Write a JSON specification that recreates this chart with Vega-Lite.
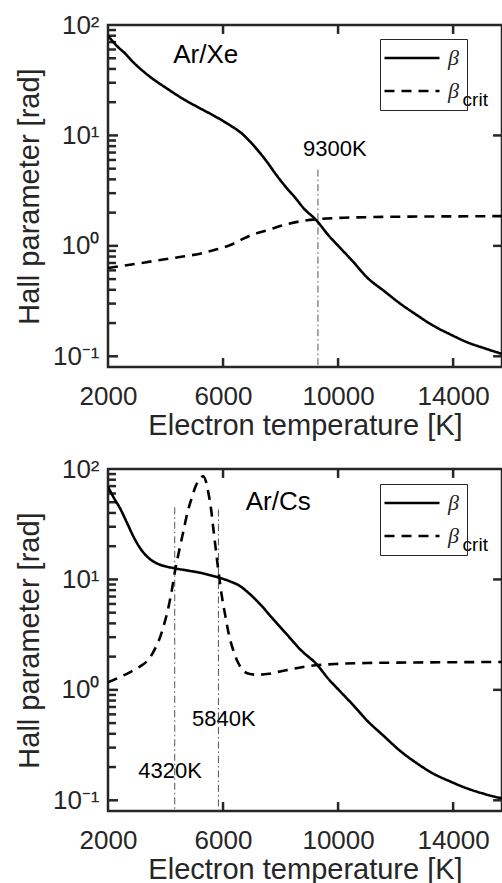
{
  "$schema": "https://vega.github.io/schema/vega-lite/v6.json",
  "background": "white",
  "padding": {"left": 14, "top": 10, "right": 0, "bottom": 0},
  "spacing": 12,
  "datasets": {
    "xeCurves": [
      {"T": 2000, "v": 80, "s": "beta"}, {"T": 2300, "v": 65, "s": "beta"}, {"T": 2600, "v": 55, "s": "beta"},
      {"T": 2880, "v": 46, "s": "beta"}, {"T": 3460, "v": 34, "s": "beta"}, {"T": 4040, "v": 26.7, "s": "beta"},
      {"T": 4600, "v": 21.5, "s": "beta"}, {"T": 5200, "v": 17.6, "s": "beta"}, {"T": 5700, "v": 15, "s": "beta"},
      {"T": 6130, "v": 12.9, "s": "beta"}, {"T": 6710, "v": 10.1, "s": "beta"}, {"T": 7100, "v": 7.9, "s": "beta"},
      {"T": 7520, "v": 5.8, "s": "beta"}, {"T": 7850, "v": 4.4, "s": "beta"}, {"T": 8210, "v": 3.35, "s": "beta"},
      {"T": 8500, "v": 2.75, "s": "beta"}, {"T": 8790, "v": 2.21, "s": "beta"}, {"T": 9250, "v": 1.7, "s": "beta"},
      {"T": 9650, "v": 1.26, "s": "beta"}, {"T": 10070, "v": 0.96, "s": "beta"}, {"T": 10500, "v": 0.73, "s": "beta"},
      {"T": 11000, "v": 0.52, "s": "beta"}, {"T": 11600, "v": 0.39, "s": "beta"}, {"T": 12160, "v": 0.3, "s": "beta"},
      {"T": 12700, "v": 0.24, "s": "beta"}, {"T": 13300, "v": 0.19, "s": "beta"}, {"T": 13900, "v": 0.158, "s": "beta"},
      {"T": 14490, "v": 0.134, "s": "beta"}, {"T": 15100, "v": 0.118, "s": "beta"}, {"T": 15700, "v": 0.105, "s": "beta"},
      {"T": 2000, "v": 0.63, "s": "crit"}, {"T": 2500, "v": 0.66, "s": "crit"}, {"T": 3000, "v": 0.69, "s": "crit"},
      {"T": 3460, "v": 0.72, "s": "crit"}, {"T": 4040, "v": 0.76, "s": "crit"}, {"T": 4600, "v": 0.8, "s": "crit"},
      {"T": 5200, "v": 0.85, "s": "crit"}, {"T": 5780, "v": 0.93, "s": "crit"}, {"T": 6300, "v": 1.03, "s": "crit"},
      {"T": 6590, "v": 1.12, "s": "crit"}, {"T": 6940, "v": 1.24, "s": "crit"}, {"T": 7520, "v": 1.38, "s": "crit"},
      {"T": 8210, "v": 1.57, "s": "crit"}, {"T": 8700, "v": 1.67, "s": "crit"}, {"T": 9250, "v": 1.74, "s": "crit"},
      {"T": 10000, "v": 1.79, "s": "crit"}, {"T": 11000, "v": 1.82, "s": "crit"}, {"T": 12500, "v": 1.84, "s": "crit"},
      {"T": 14000, "v": 1.85, "s": "crit"}, {"T": 15700, "v": 1.86, "s": "crit"}
    ],
    "csCurves": [
      {"T": 2000, "v": 69, "s": "beta"}, {"T": 2200, "v": 55, "s": "beta"}, {"T": 2420, "v": 44, "s": "beta"},
      {"T": 2650, "v": 33, "s": "beta"}, {"T": 2880, "v": 24.6, "s": "beta"}, {"T": 3100, "v": 19.5, "s": "beta"},
      {"T": 3350, "v": 16.2, "s": "beta"}, {"T": 3600, "v": 14.4, "s": "beta"}, {"T": 3810, "v": 13.6, "s": "beta"},
      {"T": 4330, "v": 12.6, "s": "beta"}, {"T": 4800, "v": 12.0, "s": "beta"}, {"T": 5200, "v": 11.5, "s": "beta"},
      {"T": 5840, "v": 10.4, "s": "beta"}, {"T": 6200, "v": 9.7, "s": "beta"}, {"T": 6590, "v": 8.7, "s": "beta"},
      {"T": 6900, "v": 7.5, "s": "beta"}, {"T": 7290, "v": 5.96, "s": "beta"}, {"T": 7700, "v": 4.5, "s": "beta"},
      {"T": 8210, "v": 3.2, "s": "beta"}, {"T": 8700, "v": 2.3, "s": "beta"}, {"T": 9250, "v": 1.71, "s": "beta"},
      {"T": 9650, "v": 1.27, "s": "beta"}, {"T": 10070, "v": 0.97, "s": "beta"}, {"T": 10500, "v": 0.74, "s": "beta"},
      {"T": 11000, "v": 0.53, "s": "beta"}, {"T": 11600, "v": 0.38, "s": "beta"}, {"T": 12160, "v": 0.28, "s": "beta"},
      {"T": 12700, "v": 0.22, "s": "beta"}, {"T": 13300, "v": 0.175, "s": "beta"}, {"T": 13900, "v": 0.148, "s": "beta"},
      {"T": 14490, "v": 0.128, "s": "beta"}, {"T": 15100, "v": 0.114, "s": "beta"}, {"T": 15700, "v": 0.104, "s": "beta"},
      {"T": 2000, "v": 1.17, "s": "crit"}, {"T": 2400, "v": 1.3, "s": "crit"}, {"T": 2770, "v": 1.45, "s": "crit"},
      {"T": 3100, "v": 1.62, "s": "crit"}, {"T": 3460, "v": 1.96, "s": "crit"}, {"T": 3650, "v": 2.4, "s": "crit"},
      {"T": 3810, "v": 2.99, "s": "crit"}, {"T": 3960, "v": 4.0, "s": "crit"}, {"T": 4100, "v": 5.56, "s": "crit"},
      {"T": 4220, "v": 8.0, "s": "crit"}, {"T": 4330, "v": 11.9, "s": "crit"}, {"T": 4470, "v": 18, "s": "crit"},
      {"T": 4620, "v": 27.2, "s": "crit"}, {"T": 4760, "v": 40, "s": "crit"}, {"T": 4910, "v": 54.5, "s": "crit"},
      {"T": 5050, "v": 70, "s": "crit"}, {"T": 5200, "v": 82, "s": "crit"}, {"T": 5310, "v": 86, "s": "crit"},
      {"T": 5400, "v": 78, "s": "crit"}, {"T": 5490, "v": 61, "s": "crit"}, {"T": 5580, "v": 44, "s": "crit"},
      {"T": 5660, "v": 29.3, "s": "crit"}, {"T": 5750, "v": 18.5, "s": "crit"}, {"T": 5840, "v": 11.9, "s": "crit"},
      {"T": 5950, "v": 7.3, "s": "crit"}, {"T": 6070, "v": 4.84, "s": "crit"}, {"T": 6200, "v": 3.2, "s": "crit"},
      {"T": 6360, "v": 2.26, "s": "crit"}, {"T": 6530, "v": 1.75, "s": "crit"}, {"T": 6710, "v": 1.49, "s": "crit"},
      {"T": 6900, "v": 1.4, "s": "crit"}, {"T": 7170, "v": 1.37, "s": "crit"}, {"T": 7600, "v": 1.4, "s": "crit"},
      {"T": 8100, "v": 1.49, "s": "crit"}, {"T": 8600, "v": 1.58, "s": "crit"}, {"T": 9140, "v": 1.66, "s": "crit"},
      {"T": 10000, "v": 1.72, "s": "crit"}, {"T": 11000, "v": 1.75, "s": "crit"}, {"T": 12500, "v": 1.77, "s": "crit"},
      {"T": 14000, "v": 1.78, "s": "crit"}, {"T": 15700, "v": 1.79, "s": "crit"}
    ],
    "xeRefs": [{"T": 9300, "v": 4.9, "v2": 0.08}],
    "csRefs": [{"T": 4320, "v": 45, "v2": 0.08}, {"T": 5840, "v": 43, "v2": 0.08}],
    "xeTexts": [
      {"T": 5400, "v": 54, "label": "Ar/Xe", "kind": "name"},
      {"T": 9890, "v": 7.6, "label": "9300K", "kind": "temp"},
      {"T": 14770, "v": 21, "label": "crit", "kind": "sub"}
    ],
    "csTexts": [
      {"T": 7920, "v": 50, "label": "Ar/Cs", "kind": "name"},
      {"T": 6030, "v": 0.55, "label": "5840K", "kind": "temp"},
      {"T": 4160, "v": 0.186, "label": "4320K", "kind": "temp"},
      {"T": 14770, "v": 20.7, "label": "crit", "kind": "sub"}
    ],
    "xeXTicks": [{"T": 6000}, {"T": 10000}, {"T": 14000}],
    "csXTicks": [{"T": 6000}, {"T": 10000}, {"T": 14000}],
    "xeYMajor": [{"v": 0.1}, {"v": 1}, {"v": 10}],
    "csYMajor": [{"v": 0.1}, {"v": 1}, {"v": 10}],
    "xeYMinor": [{"v": 0.2}, {"v": 0.3}, {"v": 0.4}, {"v": 0.5}, {"v": 0.6}, {"v": 0.7}, {"v": 0.8}, {"v": 0.9},
               {"v": 2}, {"v": 3}, {"v": 4}, {"v": 5}, {"v": 6}, {"v": 7}, {"v": 8}, {"v": 9},
               {"v": 20}, {"v": 30}, {"v": 40}, {"v": 50}, {"v": 60}, {"v": 70}, {"v": 80}, {"v": 90}],
    "csYMinor": [{"v": 0.2}, {"v": 0.3}, {"v": 0.4}, {"v": 0.5}, {"v": 0.6}, {"v": 0.7}, {"v": 0.8}, {"v": 0.9},
               {"v": 2}, {"v": 3}, {"v": 4}, {"v": 5}, {"v": 6}, {"v": 7}, {"v": 8}, {"v": 9},
               {"v": 20}, {"v": 30}, {"v": 40}, {"v": 50}, {"v": 60}, {"v": 70}, {"v": 80}, {"v": 90}]
  },
  "resolve": {"legend": {"strokeDash": "independent"}},
  "vconcat": [
    {
      "width": 394, "height": 342,
      "resolve": {"axis": {"x": "independent", "y": "independent"}},
      "layer": [
        {
          "data": {"name": "xeRefs"},
          "mark": {"type": "rule", "strokeWidth": 1, "color": "#555555", "strokeDash": [7, 3, 1.5, 3], "clip": true},
          "encoding": {
            "x": {"field": "T", "type": "quantitative", "scale": {"domain": [2000, 15700], "nice": false, "zero": false},
                  "axis": {"orient": "bottom", "values": [2000, 6000, 10000, 14000], "format": "d", "title": "Electron temperature [K]", "ticks": false, "labelPadding": 16, "titlePadding": 2, "labelFlush": false, "labelOverlap": false}},
            "y": {"field": "v", "type": "quantitative", "scale": {"type": "log", "domain": [0.08, 100], "nice": false},
                  "axis": {"orient": "left", "values": [0.1, 1, 10, 100], "title": "Hall parameter [rad]", "ticks": false, "labelPadding": 9, "titlePadding": 8,
                           "labelExpr": "datum.value == 100 ? '10²' : datum.value == 10 ? '10¹' : datum.value == 1 ? '10⁰' : '10⁻¹'"}},
            "y2": {"field": "v2"}
          }
        },
        {
          "data": {"name": "xeXTicks"},
          "mark": {"type": "rule", "strokeWidth": 2.5, "color": "#262626", "clip": true},
          "encoding": {"x": {"field": "T", "type": "quantitative", "axis": null}, "y": {"datum": 100, "type": "quantitative", "axis": null}, "y2": {"datum": 83}}
        },
        {
          "data": {"name": "xeXTicks"},
          "mark": {"type": "rule", "strokeWidth": 2.5, "color": "#262626", "clip": true},
          "encoding": {"x": {"field": "T", "type": "quantitative", "axis": null}, "y": {"datum": 0.08, "type": "quantitative", "axis": null}, "y2": {"datum": 0.0964}}
        },
        {
          "data": {"name": "xeYMajor"},
          "mark": {"type": "rule", "strokeWidth": 2.5, "color": "#262626", "clip": true},
          "encoding": {"y": {"field": "v", "type": "quantitative", "axis": null}, "x": {"datum": 2000, "type": "quantitative", "axis": null}, "x2": {"datum": 2348}}
        },
        {
          "data": {"name": "xeYMajor"},
          "mark": {"type": "rule", "strokeWidth": 2.5, "color": "#262626", "clip": true},
          "encoding": {"y": {"field": "v", "type": "quantitative", "axis": null}, "x": {"datum": 15700, "type": "quantitative", "axis": null}, "x2": {"datum": 15390}}
        },
        {
          "data": {"name": "xeYMinor"},
          "mark": {"type": "rule", "strokeWidth": 2.5, "color": "#262626", "clip": true},
          "encoding": {"y": {"field": "v", "type": "quantitative", "axis": null}, "x": {"datum": 2000, "type": "quantitative", "axis": null}, "x2": {"datum": 2278}}
        },
        {
          "data": {"name": "xeCurves"},
          "mark": {"type": "line", "strokeWidth": 2.6, "color": "black", "clip": true, "interpolate": "monotone"},
          "encoding": {
            "x": {"field": "T", "type": "quantitative", "axis": null},
            "y": {"field": "v", "type": "quantitative", "axis": null},
            "strokeDash": {"field": "s", "type": "nominal", "scale": {"domain": ["beta", "crit"], "range": [[1, 0], [10, 7]]},
              "legend": {"orient": "none", "legendX": 272, "legendY": 14, "title": null, "labelExpr": "'β\u00a0\u00a0\u00a0'"}}
          }
        },
        {
          "data": {"name": "xeTexts"},
          "transform": [{"filter": "datum.kind != 'sub'"}],
          "mark": {"type": "text", "font": "Liberation Sans", "fontSize": 25, "color": "black"},
          "encoding": {
            "x": {"field": "T", "type": "quantitative", "axis": null},
            "y": {"field": "v", "type": "quantitative", "axis": null},
            "text": {"field": "label"},
            "size": {"condition": {"test": "datum.kind == 'temp'", "value": 22}, "value": 26}
          }
        },
        {
          "data": {"name": "xeTexts"},
          "transform": [{"filter": "datum.kind == 'sub'"}],
          "mark": {"type": "text", "font": "Liberation Sans", "fontSize": 19, "color": "black"},
          "encoding": {
            "x": {"field": "T", "type": "quantitative", "axis": null},
            "y": {"field": "v", "type": "quantitative", "axis": null},
            "text": {"field": "label"}
          }
        }
      ]
    },
    {
      "width": 394, "height": 342,
      "resolve": {"axis": {"x": "independent", "y": "independent"}},
      "layer": [
        {
          "data": {"name": "csRefs"},
          "mark": {"type": "rule", "strokeWidth": 1, "color": "#555555", "strokeDash": [7, 3, 1.5, 3], "clip": true},
          "encoding": {
            "x": {"field": "T", "type": "quantitative", "scale": {"domain": [2000, 15700], "nice": false, "zero": false},
                  "axis": {"orient": "bottom", "values": [2000, 6000, 10000, 14000], "format": "d", "title": "Electron temperature [K]", "ticks": false, "labelPadding": 16, "titlePadding": 2, "labelFlush": false, "labelOverlap": false}},
            "y": {"field": "v", "type": "quantitative", "scale": {"type": "log", "domain": [0.08, 100], "nice": false},
                  "axis": {"orient": "left", "values": [0.1, 1, 10, 100], "title": "Hall parameter [rad]", "ticks": false, "labelPadding": 9, "titlePadding": 8,
                           "labelExpr": "datum.value == 100 ? '10²' : datum.value == 10 ? '10¹' : datum.value == 1 ? '10⁰' : '10⁻¹'"}},
            "y2": {"field": "v2"}
          }
        },
        {
          "data": {"name": "csXTicks"},
          "mark": {"type": "rule", "strokeWidth": 2.5, "color": "#262626", "clip": true},
          "encoding": {"x": {"field": "T", "type": "quantitative", "axis": null}, "y": {"datum": 100, "type": "quantitative", "axis": null}, "y2": {"datum": 83}}
        },
        {
          "data": {"name": "csXTicks"},
          "mark": {"type": "rule", "strokeWidth": 2.5, "color": "#262626", "clip": true},
          "encoding": {"x": {"field": "T", "type": "quantitative", "axis": null}, "y": {"datum": 0.08, "type": "quantitative", "axis": null}, "y2": {"datum": 0.0964}}
        },
        {
          "data": {"name": "csYMajor"},
          "mark": {"type": "rule", "strokeWidth": 2.5, "color": "#262626", "clip": true},
          "encoding": {"y": {"field": "v", "type": "quantitative", "axis": null}, "x": {"datum": 2000, "type": "quantitative", "axis": null}, "x2": {"datum": 2348}}
        },
        {
          "data": {"name": "csYMajor"},
          "mark": {"type": "rule", "strokeWidth": 2.5, "color": "#262626", "clip": true},
          "encoding": {"y": {"field": "v", "type": "quantitative", "axis": null}, "x": {"datum": 15700, "type": "quantitative", "axis": null}, "x2": {"datum": 15390}}
        },
        {
          "data": {"name": "csYMinor"},
          "mark": {"type": "rule", "strokeWidth": 2.5, "color": "#262626", "clip": true},
          "encoding": {"y": {"field": "v", "type": "quantitative", "axis": null}, "x": {"datum": 2000, "type": "quantitative", "axis": null}, "x2": {"datum": 2278}}
        },
        {
          "data": {"name": "csCurves"},
          "mark": {"type": "line", "strokeWidth": 2.6, "color": "black", "clip": true, "interpolate": "monotone"},
          "encoding": {
            "x": {"field": "T", "type": "quantitative", "axis": null},
            "y": {"field": "v", "type": "quantitative", "axis": null},
            "strokeDash": {"field": "s", "type": "nominal", "scale": {"domain": ["beta", "crit"], "range": [[1, 0], [10, 7]]},
              "legend": {"orient": "none", "legendX": 272, "legendY": 15, "title": null, "labelExpr": "'β\u00a0\u00a0\u00a0'"}}
          }
        },
        {
          "data": {"name": "csTexts"},
          "transform": [{"filter": "datum.kind != 'sub'"}],
          "mark": {"type": "text", "font": "Liberation Sans", "fontSize": 25, "color": "black"},
          "encoding": {
            "x": {"field": "T", "type": "quantitative", "axis": null},
            "y": {"field": "v", "type": "quantitative", "axis": null},
            "text": {"field": "label"},
            "size": {"condition": {"test": "datum.kind == 'temp'", "value": 22}, "value": 26}
          }
        },
        {
          "data": {"name": "csTexts"},
          "transform": [{"filter": "datum.kind == 'sub'"}],
          "mark": {"type": "text", "font": "Liberation Sans", "fontSize": 19, "color": "black"},
          "encoding": {
            "x": {"field": "T", "type": "quantitative", "axis": null},
            "y": {"field": "v", "type": "quantitative", "axis": null},
            "text": {"field": "label"}
          }
        }
      ]
    }
  ],
  "config": {
    "view": {"stroke": "#262626", "strokeWidth": 2.5},
    "axis": {"domain": false, "grid": false, "labelColor": "#262626", "labelFont": "Liberation Sans", "labelFontSize": 26,
             "titleFont": "Liberation Sans", "titleFontSize": 29, "titleFontWeight": "normal", "titleColor": "#262626"},
    "legend": {"strokeColor": "#262626", "padding": 8, "symbolType": "M-5,0H5", "symbolSize": 121, "symbolStrokeWidth": 2.6,
               "symbolStrokeColor": "black", "labelFont": "Liberation Serif", "labelFontStyle": "italic", "labelFontSize": 22, "labelColor": "#262626",
               "rowPadding": 11, "labelOffset": 25, "symbolOffset": 13, "cornerRadius": 0}
  }
}
